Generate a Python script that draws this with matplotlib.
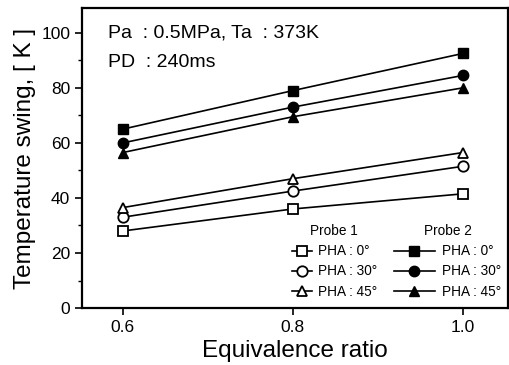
import matplotlib
matplotlib.use("Agg")
import matplotlib.pyplot as plt
from matplotlib.ticker import MultipleLocator

plt.rcParams['font.family'] = ['Liberation Sans', 'DejaVu Sans']

phi = [0.6, 0.8, 1.0]
p1_pha0 = [28, 36, 41.5]
p1_pha30 = [33, 42.5, 51.5]
p1_pha45 = [36.5, 47, 56.5]
p2_pha0 = [65, 79, 92.5]
p2_pha30 = [60, 73, 84.5]
p2_pha45 = [56.5, 69.5, 80]
labels = ["PHA : 0°", "PHA : 30°", "PHA : 45°"]

fig = plt.figure(figsize=(5.09, 3.65), dpi=100)
ax = fig.add_axes([0.161, 0.156, 0.837, 0.822])

markers = ['s', 'o', '^']
p1 = [p1_pha0, p1_pha30, p1_pha45]
p2 = [p2_pha0, p2_pha30, p2_pha45]
h1, h2 = [], []
for m, y, lab in zip(markers, p1, labels):
    l, = ax.plot(phi, y, color='black', lw=1.2, marker=m, ms=7.5,
                 mfc='white', mec='black', mew=1.3, label=lab)
    h1.append(l)
for m, y, lab in zip(markers, p2, labels):
    l, = ax.plot(phi, y, color='black', lw=1.2, marker=m, ms=7.5,
                 mfc='black', mec='black', label=lab)
    h2.append(l)

ax.set_xlim(0.552, 1.053)
ax.set_ylim(0, 109)
ax.set_xticks([0.6, 0.8, 1.0])
ax.set_xticklabels(['0.6', '0.8', '1.0'])
ax.yaxis.set_major_locator(MultipleLocator(20))
ax.yaxis.set_minor_locator(MultipleLocator(10))
ax.tick_params(axis='both', which='major', direction='out', length=5, width=1.2, labelsize=12.5)
ax.tick_params(axis='y', which='minor', direction='out', length=3, width=1.0)
for s in ax.spines.values():
    s.set_linewidth(1.6)

ax.set_xlabel('Equivalence ratio', fontsize=17.5, labelpad=4)
ax.set_ylabel('Temperature swing, [ K ]', fontsize=17.5, labelpad=4)

ax.text(0.06, 0.917, 'Pa  : 0.5MPa, Ta  : 373K', transform=ax.transAxes, fontsize=14, va='center')
ax.text(0.06, 0.82, 'PD  : 240ms', transform=ax.transAxes, fontsize=14, va='center')

leg1 = ax.legend(handles=h1, title='Probe 1', loc='lower left', bbox_to_anchor=(0.47, 0.0),
                 frameon=False, fontsize=9.8, title_fontsize=9.8, handlelength=1.5,
                 handletextpad=0.4, labelspacing=0.45, borderaxespad=0.3)
ax.add_artist(leg1)
leg2 = ax.legend(handles=h2, title='Probe 2', loc='lower left', bbox_to_anchor=(0.71, 0.0),
                 frameon=False, fontsize=9.8, title_fontsize=9.8, handlelength=3.0,
                 handletextpad=0.5, labelspacing=0.45, borderaxespad=0.3)

fig.savefig('out.png', dpi=100)
